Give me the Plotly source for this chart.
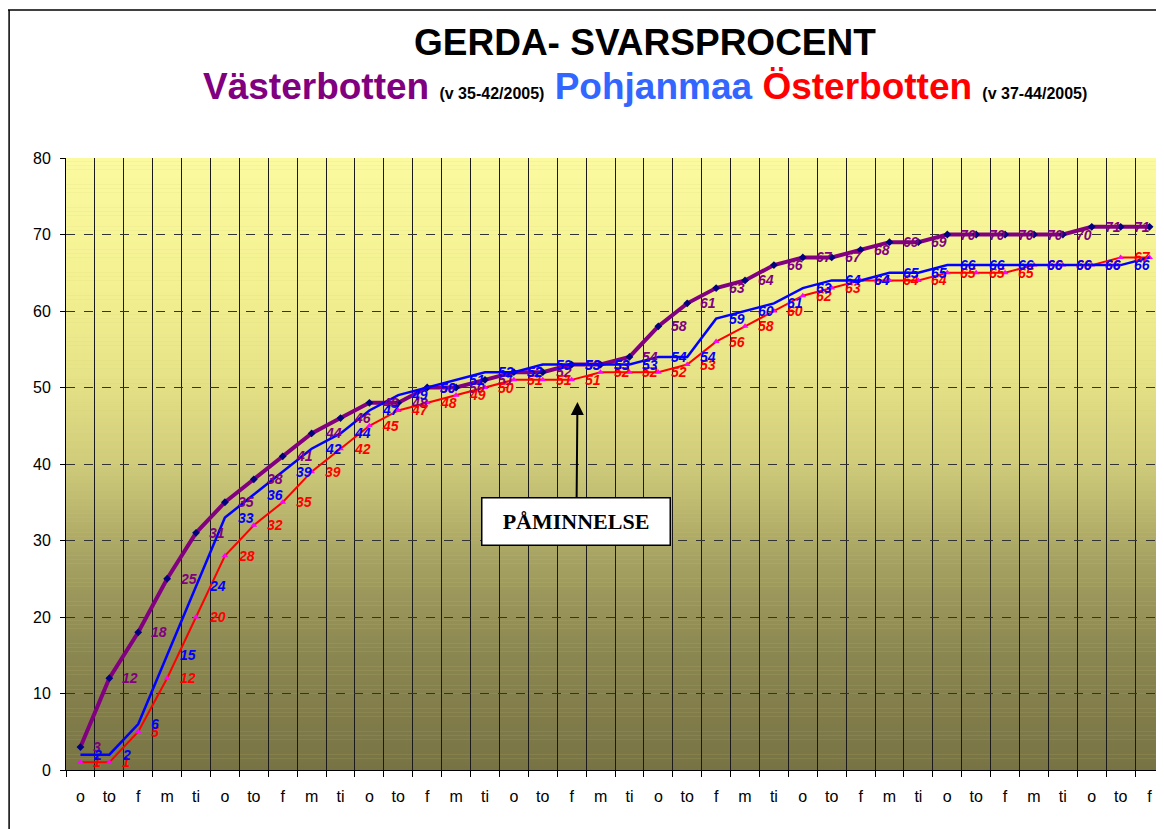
import plotly.graph_objects as go

# ---------------- data ----------------
day_labels = ["o", "to", "f", "m", "ti"] * 7 + ["o", "to", "f"]
vasterbotten = [3, 12, 18, 25, 31, 35, 38, 41, 44, 46, 48, 48, 50, 50, 51, 52, 52, 53, 53, 54,
                58, 61, 63, 64, 66, 67, 67, 68, 69, 69, 70, 70, 70, 70, 70, 71, 71, 71]
pohjanmaa = [2, 2, 6, 15, 24, 33, 36, 39, 42, 44, 47, 49, 50, 51, 52, 52, 53, 53, 53, 53,
             54, 54, 59, 60, 61, 63, 64, 64, 65, 65, 66, 66, 66, 66, 66, 66, 66, 67]
osterbotten = [1, 1, 5, 12, 20, 28, 32, 35, 39, 42, 45, 47, 48, 49, 50, 51, 51, 51, 52, 52,
               52, 53, 56, 58, 60, 62, 63, 64, 64, 64, 65, 65, 65, 66, 66, 66, 67, 67]
y_ticks = [0, 10, 20, 30, 40, 50, 60, 70, 80]
title_text = "GERDA- SVARSPROCENT"
reminder_text = "PÅMINNELSE"
reminder_x = 17.2
reminder_y = 48.1

x_idx = list(range(len(day_labels)))

PURPLE = "#800080"
BLUE = "#0000FF"
RED = "#FF0000"
FONT = "Liberation Sans, Arial, sans-serif"

fig = go.Figure()

fig.add_trace(go.Scatter(x=x_idx, y=vasterbotten, mode="lines+markers", name="Västerbotten",
                         line=dict(color=PURPLE, width=4),
                         marker=dict(symbol="diamond", size=6, color="#000080")))
fig.add_trace(go.Scatter(x=x_idx, y=osterbotten, mode="lines+markers", name="Österbotten",
                         line=dict(color=RED, width=2),
                         marker=dict(symbol="triangle-up", size=6, color="#FF00FF")))
fig.add_trace(go.Scatter(x=x_idx, y=pohjanmaa, mode="lines", name="Pohjanmaa",
                         line=dict(color=BLUE, width=2.5)))

# ---------------- gradient background ----------------
stops = [(0.0, (120, 115, 68)), (0.2, (140, 136, 82)), (0.35, (167, 163, 99)),
         (0.5, (207, 203, 122)), (0.65, (231, 228, 136)), (0.8, (243, 241, 145)),
         (1.0, (251, 250, 160))]


def grad(t):
    for (t0, c0), (t1, c1) in zip(stops[:-1], stops[1:]):
        if t0 <= t <= t1:
            f = (t - t0) / (t1 - t0)
            return "rgb(%d,%d,%d)" % tuple(round(a + (b - a) * f) for a, b in zip(c0, c1))
    return "rgb(%d,%d,%d)" % stops[-1][1]


shapes = []
N = 160
ymax = y_ticks[-1]
for k in range(N):
    y0 = ymax * k / N
    y1 = ymax * (k + 1) / N + 0.03
    shapes.append(dict(type="rect", xref="x", yref="y", x0=-0.5, x1=len(day_labels) - 0.5,
                       y0=y0, y1=min(y1, ymax), fillcolor=grad((k + 0.5) / N),
                       line=dict(width=0), layer="below"))

# page is offset by the 8px body margin; plot area is 1098 x 612 px
fx = (8 - 66) / 1098
fy = (770 - 10) / 612
shapes.append(dict(type="line", xref="paper", yref="paper", x0=fx + 0.001, x1=fx + 0.001,
                   y0=fy, y1=-0.2, line=dict(color="#000000", width=1.5)))
shapes.append(dict(type="line", xref="paper", yref="paper", x0=fx, x1=1.1, y0=fy, y1=fy,
                   line=dict(color="#000000", width=1.5)))

# ---------------- annotations ----------------
annotations = []


def add_labels(values, color):
    for i, v in enumerate(values):
        annotations.append(dict(x=i, y=v, xref="x", yref="y", text=str(v), showarrow=False,
                                xanchor="left", yanchor="middle", xshift=11, yshift=0,
                                font=dict(family=FONT, size=14, color=color,
                                          weight="bold", style="italic")))


add_labels(vasterbotten, PURPLE)
add_labels(osterbotten, RED)
add_labels(pohjanmaa, BLUE)

cx = (645 - 66) / 1098
annotations.append(dict(xref="paper", yref="paper", x=cx, y=(770 - 42) / 612,
                        text="<b>%s</b>" % title_text, showarrow=False,
                        xanchor="center", yanchor="middle",
                        font=dict(family=FONT, size=37, color="#000000")))
subtitle = ('<b><span style="color:#800080">Västerbotten</span> '
            '<span style="font-size:16px">(v 35-42/2005)</span> '
            '<span style="color:#3366FF">Pohjanmaa</span> '
            '<span style="color:#FF0000">Österbotten</span> '
            '<span style="font-size:16px">(v 37-44/2005)</span></b>')
annotations.append(dict(xref="paper", yref="paper", x=cx, y=(770 - 87) / 612,
                        text=subtitle, showarrow=False, xanchor="center", yanchor="middle",
                        font=dict(family=FONT, size=37, color="#000000")))

annotations.append(dict(x=reminder_x, y=reminder_y, xref="x", yref="y",
                        text="<b>%s</b>" % reminder_text, showarrow=True,
                        ax=-1, ay=119, arrowhead=2, arrowsize=1.3, arrowwidth=2,
                        arrowcolor="#000000", standoff=0,
                        bgcolor="#FFFFFF", bordercolor="#000000", borderwidth=1.5,
                        borderpad=1, width=185, height=44, align="center",
                        font=dict(family="Liberation Serif, Times New Roman, serif",
                                  size=22, color="#000000")))

fig.update_layout(
    width=1156, height=821,
    margin=dict(l=58, r=0, t=150, b=59),
    paper_bgcolor="#FFFFFF",
    plot_bgcolor="rgb(205,201,120)",
    showlegend=False,
    shapes=shapes,
    annotations=annotations,
    font=dict(family=FONT, color="#000000"),
)

fig.update_xaxes(
    range=[-0.5, len(day_labels) - 0.5],
    tickmode="array", tickvals=x_idx, ticktext=day_labels,
    ticks="", showgrid=False, zeroline=False,
    showline=True, linecolor="#000000", linewidth=1,
    tickfont=dict(family=FONT, size=16, color="#000000"),
    ticklabelstandoff=12,
    minor=dict(tickmode="linear", tick0=-0.5, dtick=1, ticks="outside", ticklen=6,
               tickcolor="#000000", showgrid=True, gridcolor="#1a1a1a", gridwidth=1),
)
fig.update_yaxes(
    range=[0, 80], tickmode="array", tickvals=y_ticks,
    ticks="outside", ticklen=5, tickcolor="#000000",
    showgrid=True, gridcolor="#333333", gridwidth=1.2, griddash="dash",
    zeroline=False, showline=True, linecolor="#000000", linewidth=1,
    tickfont=dict(family=FONT, size=16, color="#000000"),
    ticklabelstandoff=6,
)

fig.write_html("out.html")
